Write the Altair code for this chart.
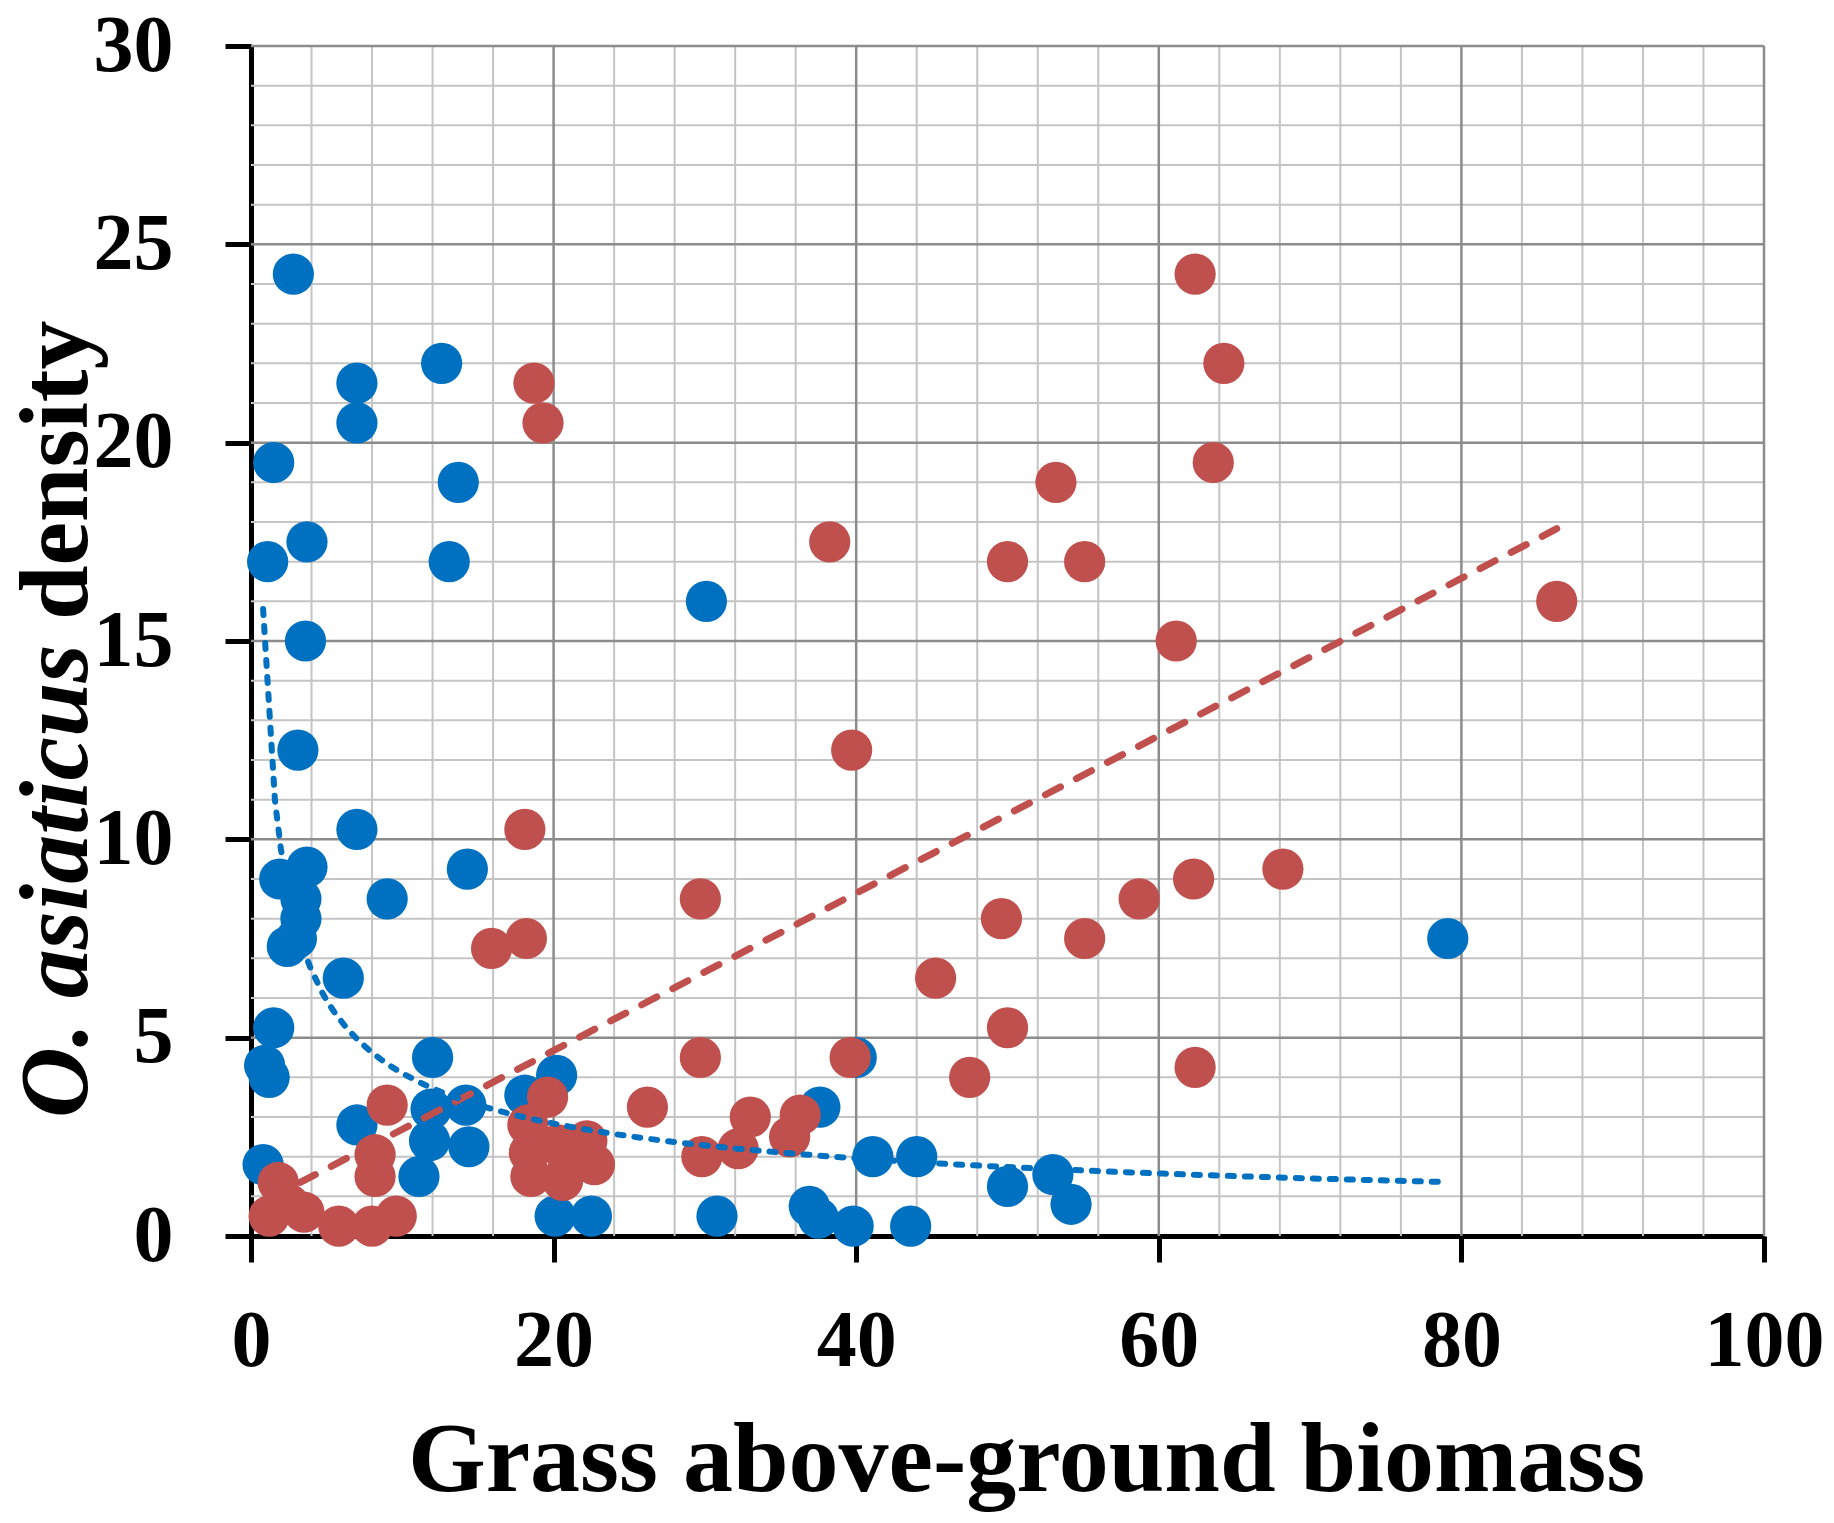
import altair as alt
import pandas as pd

# ---- data ----
blue_x = [2.8, 7.0, 7.0, 12.6, 1.5, 13.7, 3.7, 1.1, 13.1, 30.1,
          3.6, 3.1, 7.0, 3.7, 1.9, 3.3, 3.3, 2.4, 3.0, 9.0,
          14.3, 6.1, 1.5, 0.9, 1.2, 12.0, 7.0, 0.8, 11.1, 11.9,
          11.8, 14.2, 14.4, 20.2, 18.1, 20.1, 22.5, 30.8, 37.6, 41.1,
          44.0, 36.9, 37.5, 39.8, 43.6, 40.0, 50.0, 53.0, 54.2, 79.1]
blue_y = [24.25, 21.5, 20.5, 22.0, 19.5, 19.0, 17.5, 17.0, 17.0, 16.0,
          15.0, 12.25, 10.25, 9.3, 9.0, 8.5, 8.0, 7.3, 7.5, 8.5,
          9.25, 6.5, 5.25, 4.3, 4.0, 4.5, 2.8, 1.8, 1.5, 3.2,
          2.4, 3.3, 2.25, 4.05, 3.55, 0.5, 0.5, 0.5, 3.25, 2.0,
          2.0, 0.75, 0.45, 0.25, 0.25, 4.5, 1.25, 1.55, 0.8, 7.5]

red_x = [62.4, 64.3, 63.6, 53.2, 38.25, 50.0, 55.1, 61.15, 86.3, 39.7,
         18.7, 19.3, 18.1, 68.2, 62.3, 58.7, 29.7, 49.6, 55.1, 18.2,
         15.9, 45.25, 50.0, 29.7, 39.6, 47.5, 62.4, 26.2, 33.0, 32.2,
         29.8, 35.6, 36.3, 9.0, 8.2, 8.2, 19.6, 18.3, 18.4, 18.5,
         20.3, 20.6, 22.2, 22.7, 21.0, 1.8, 1.2, 2.5, 3.5, 5.8,
         8.0, 9.6]
red_y = [24.25, 22.0, 19.5, 19.0, 17.5, 17.0, 17.0, 15.0, 16.0, 12.25,
         21.5, 20.5, 10.25, 9.25, 9.0, 8.5, 8.5, 8.0, 7.5, 7.5,
         7.25, 6.5, 5.25, 4.5, 4.5, 4.0, 4.25, 3.25, 3.0, 2.2,
         2.0, 2.5, 3.05, 3.3, 2.05, 1.5, 3.5, 2.8, 2.1, 1.5,
         2.3, 1.4, 2.4, 1.8, 1.8, 1.35, 0.5, 0.8, 0.6, 0.25,
         0.25, 0.5]

x_tick_values = [0, 20, 40, 60, 80, 100]
y_tick_values = [0, 5, 10, 15, 20, 25, 30]
x_minor_grid = [4, 8, 12, 16, 24, 28, 32, 36, 44, 48, 52, 56,
                64, 68, 72, 76, 84, 88, 92, 96]
x_major_grid = [20, 40, 60, 80, 100]
y_minor_grid = [1, 2, 3, 4, 6, 7, 8, 9, 11, 12, 13, 14, 16, 17, 18, 19,
                21, 22, 23, 24, 26, 27, 28, 29]
y_major_grid = [5, 10, 15, 20, 25, 30]

x_title = "Grass above-ground biomass"
y_title_italic = ["O. asiaticus"]
y_title_plain = ["density"]

BLUE = "#0070C0"
RED = "#C0504D"
FONT = "Liberation Serif"

blue_df = pd.DataFrame({"x": blue_x, "y": blue_y})
red_df = pd.DataFrame({"x": red_x, "y": red_y})

xs = alt.Scale(domain=[0, 100], nice=False, zero=False)
ys = alt.Scale(domain=[0, 30], nice=False, zero=False)

x_axis = alt.Axis(values=x_tick_values, title=x_title, grid=False,
                  labelFont=FONT, labelFontSize=80, labelFontWeight="bold",
                  labelColor="black", labelPadding=40, labelFlush=False,
                  labelOverlap=False,
                  tickSize=26, tickWidth=5, tickColor="black",
                  domainColor="black", domainWidth=5,
                  titleFont=FONT, titleFontSize=100, titleFontWeight="bold",
                  titleColor="black", titleX=775, titleY=254,
                  titleBaseline="alphabetic", titleAlign="center")
y_axis = alt.Axis(values=y_tick_values, title="", grid=False,
                  labelFont=FONT, labelFontSize=80, labelFontWeight="bold",
                  labelColor="black", labelPadding=52, labelFlush=False,
                  labelOverlap=False,
                  tickSize=26, tickWidth=5, tickColor="black",
                  domainColor="black", domainWidth=5)


def X(field):
    return alt.X(field, type="quantitative", scale=xs, axis=x_axis)


def Y(field):
    return alt.Y(field, type="quantitative", scale=ys, axis=y_axis)


xminor = alt.Chart(pd.DataFrame({"v": x_minor_grid})).mark_rule(
    color="#C4C4C4", strokeWidth=2).encode(x=X("v"))
yminor = alt.Chart(pd.DataFrame({"v": y_minor_grid})).mark_rule(
    color="#C4C4C4", strokeWidth=2).encode(y=Y("v"))
xmajor = alt.Chart(pd.DataFrame({"v": x_major_grid})).mark_rule(
    color="#8C8C8C", strokeWidth=2.5).encode(x=X("v"))
ymajor = alt.Chart(pd.DataFrame({"v": y_major_grid})).mark_rule(
    color="#8C8C8C", strokeWidth=2.5).encode(y=Y("v"))

blue_pts = alt.Chart(blue_df).mark_circle(
    color=BLUE, opacity=1, size=1700).encode(x=X("x"), y=Y("y"))
red_pts = alt.Chart(red_df).mark_circle(
    color=RED, opacity=1, size=1700).encode(x=X("x"), y=Y("y"))

red_fit = alt.Chart(red_df).transform_regression(
    "x", "y", method="linear").mark_line(
    color=RED, strokeWidth=7, strokeDash=[17, 18], strokeCap="round").encode(
    x=X("x"), y=Y("y"))
blue_fit = alt.Chart(blue_df).transform_regression(
    "x", "y", method="pow").mark_line(
    color=BLUE, strokeWidth=6, strokeDash=[6, 11], strokeCap="round").encode(
    x=X("x"), y=Y("y"))

ytitle_a = alt.Chart(pd.DataFrame({"t": y_title_italic})).mark_text(
    font=FONT, fontSize=98, fontWeight="bold", fontStyle="italic",
    angle=270, align="left", baseline="alphabetic", color="black").encode(
    x=alt.value(-164), y=alt.value(1072), text="t:N")
ytitle_b = alt.Chart(pd.DataFrame({"t": y_title_plain})).mark_text(
    font=FONT, fontSize=98, fontWeight="bold",
    angle=270, align="left", baseline="alphabetic", color="black").encode(
    x=alt.value(-164), y=alt.value(574), text="t:N")

chart = alt.layer(
    xminor, yminor, xmajor, ymajor, blue_pts, red_pts, red_fit, blue_fit,
    ytitle_a, ytitle_b
).properties(
    width=1513, height=1190,
    padding={"left": 243, "top": 38, "right": 62, "bottom": 276},
    autosize=alt.AutoSizeParams(type="none"),
    background="white",
).configure_view(strokeWidth=0)

chart.save("out.html", embed_options={"renderer": "svg", "actions": False})
